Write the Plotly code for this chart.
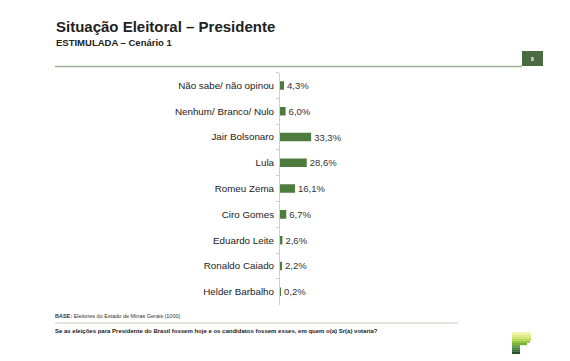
import plotly.graph_objects as go

categories = ["Não sabe/ não opinou", "Nenhum/ Branco/ Nulo", "Jair Bolsonaro", "Lula",
              "Romeu Zema", "Ciro Gomes", "Eduardo Leite", "Ronaldo Caiado", "Helder Barbalho"]
values = [4.3, 6.0, 33.3, 28.6, 16.1, 6.7, 2.6, 2.2, 0.2]

title_text = "Situação Eleitoral – Presidente"
subtitle_text = "ESTIMULADA – Cenário 1"
base_text = "<b>BASE:</b> Eleitores do Estado de Minas Gerais (1000)"
question_text = "<b>Se as eleições para Presidente do Brasil fossem hoje e os candidatos fossem esses, em quem o(a) Sr(a) votaria?</b>"
page_number = "8"

W, H = 570, 361
FONT = "Liberation Sans, Arial, sans-serif"


def px(x):
    return x / W


def py(y):
    return 1 - y / H


fig = go.Figure()
fig.add_trace(go.Bar(
    y=categories, x=values, orientation="h",
    marker=dict(color="#4e7b40", line=dict(width=0)),
    texttemplate="%{x:.1f}%", textposition="outside",
    textfont=dict(family=FONT, size=9.5, color="#333333"),
    cliponaxis=False, constraintext="none",
    hoverinfo="skip",
))

shapes = []
# top rule and page box
shapes.append(dict(type="line", xref="paper", yref="paper", x0=px(55), x1=px(522), y0=py(66.5), y1=py(66.5),
                   line=dict(color="#9cac8e", width=1.5)))
shapes.append(dict(type="rect", xref="paper", yref="paper", x0=px(522), x1=px(543), y0=py(66), y1=py(51),
                   fillcolor="#4a6b3f", line=dict(width=0)))
# bottom rule
shapes.append(dict(type="line", xref="paper", yref="paper", x0=px(55), x1=px(458), y0=py(323), y1=py(323),
                   line=dict(color="#c3cfb8", width=1)))
# logo stripes
logo_colors = ["#f2f6b0", "#e2ec8a", "#cfe46a", "#b6d852", "#98c845", "#78b23c",
               "#5e9a37", "#447f33", "#33692f", "#24512a"]
logo_right = [531, 531, 531, 531, 530, 527, 520, 520, 520, 520]
y0 = 332
sh = 2.2
for i, (c, r) in enumerate(zip(logo_colors, logo_right)):
    shapes.append(dict(type="rect", xref="paper", yref="paper", x0=px(512), x1=px(r),
                       y0=py(y0 + (i + 1) * sh), y1=py(y0 + i * sh),
                       fillcolor=c, line=dict(width=0)))

annotations = [
    dict(text=f"<b>{title_text}</b>", x=px(54), y=py(36.5), xref="paper", yref="paper",
         xanchor="left", yanchor="bottom", showarrow=False,
         font=dict(family=FONT, size=15, color="#222222")),
    dict(text=f"<b>{subtitle_text}</b>", x=px(54), y=py(49.5), xref="paper", yref="paper",
         xanchor="left", yanchor="bottom", showarrow=False,
         font=dict(family=FONT, size=9.5, color="#222222")),
    dict(text=f"<b>{page_number}</b>", x=px(532.5), y=py(58.5), xref="paper", yref="paper",
         xanchor="center", yanchor="middle", showarrow=False,
         font=dict(family=FONT, size=5, color="#ffffff")),
    dict(text=base_text, x=px(53), y=py(316), xref="paper", yref="paper",
         xanchor="left", yanchor="middle", showarrow=False,
         font=dict(family=FONT, size=5.5, color="#333333")),
    dict(text=question_text, x=px(53), y=py(331), xref="paper", yref="paper",
         xanchor="left", yanchor="middle", showarrow=False,
         font=dict(family=FONT, size=6.0, color="#222222")),
]

fig.update_layout(
    width=W, height=H,
    margin=dict(l=0, r=0, t=0, b=0),
    paper_bgcolor="white", plot_bgcolor="white",
    separators=",.",
    showlegend=False,
    bargap=0.67,
    shapes=shapes,
    annotations=annotations,
    xaxis=dict(domain=[px(280), px(280 + 93.5)], range=[0, 100], visible=False, fixedrange=True),
    yaxis=dict(domain=[py(304.6), py(72.6)], autorange="reversed", type="category",
               showline=True, linecolor="#cfcfcf", linewidth=1,
               ticks="outside", tickson="boundaries", ticklen=3, tickcolor="#cfcfcf",
               showgrid=False, zeroline=False,
               tickfont=dict(family=FONT, size=9.8, color="#222222"),
               ticklabelstandoff=3, fixedrange=True),
)

fig.write_html("out.html", config={"displayModeBar": False},
               post_script="document.body.style.margin='0';document.body.style.overflow='hidden';")
